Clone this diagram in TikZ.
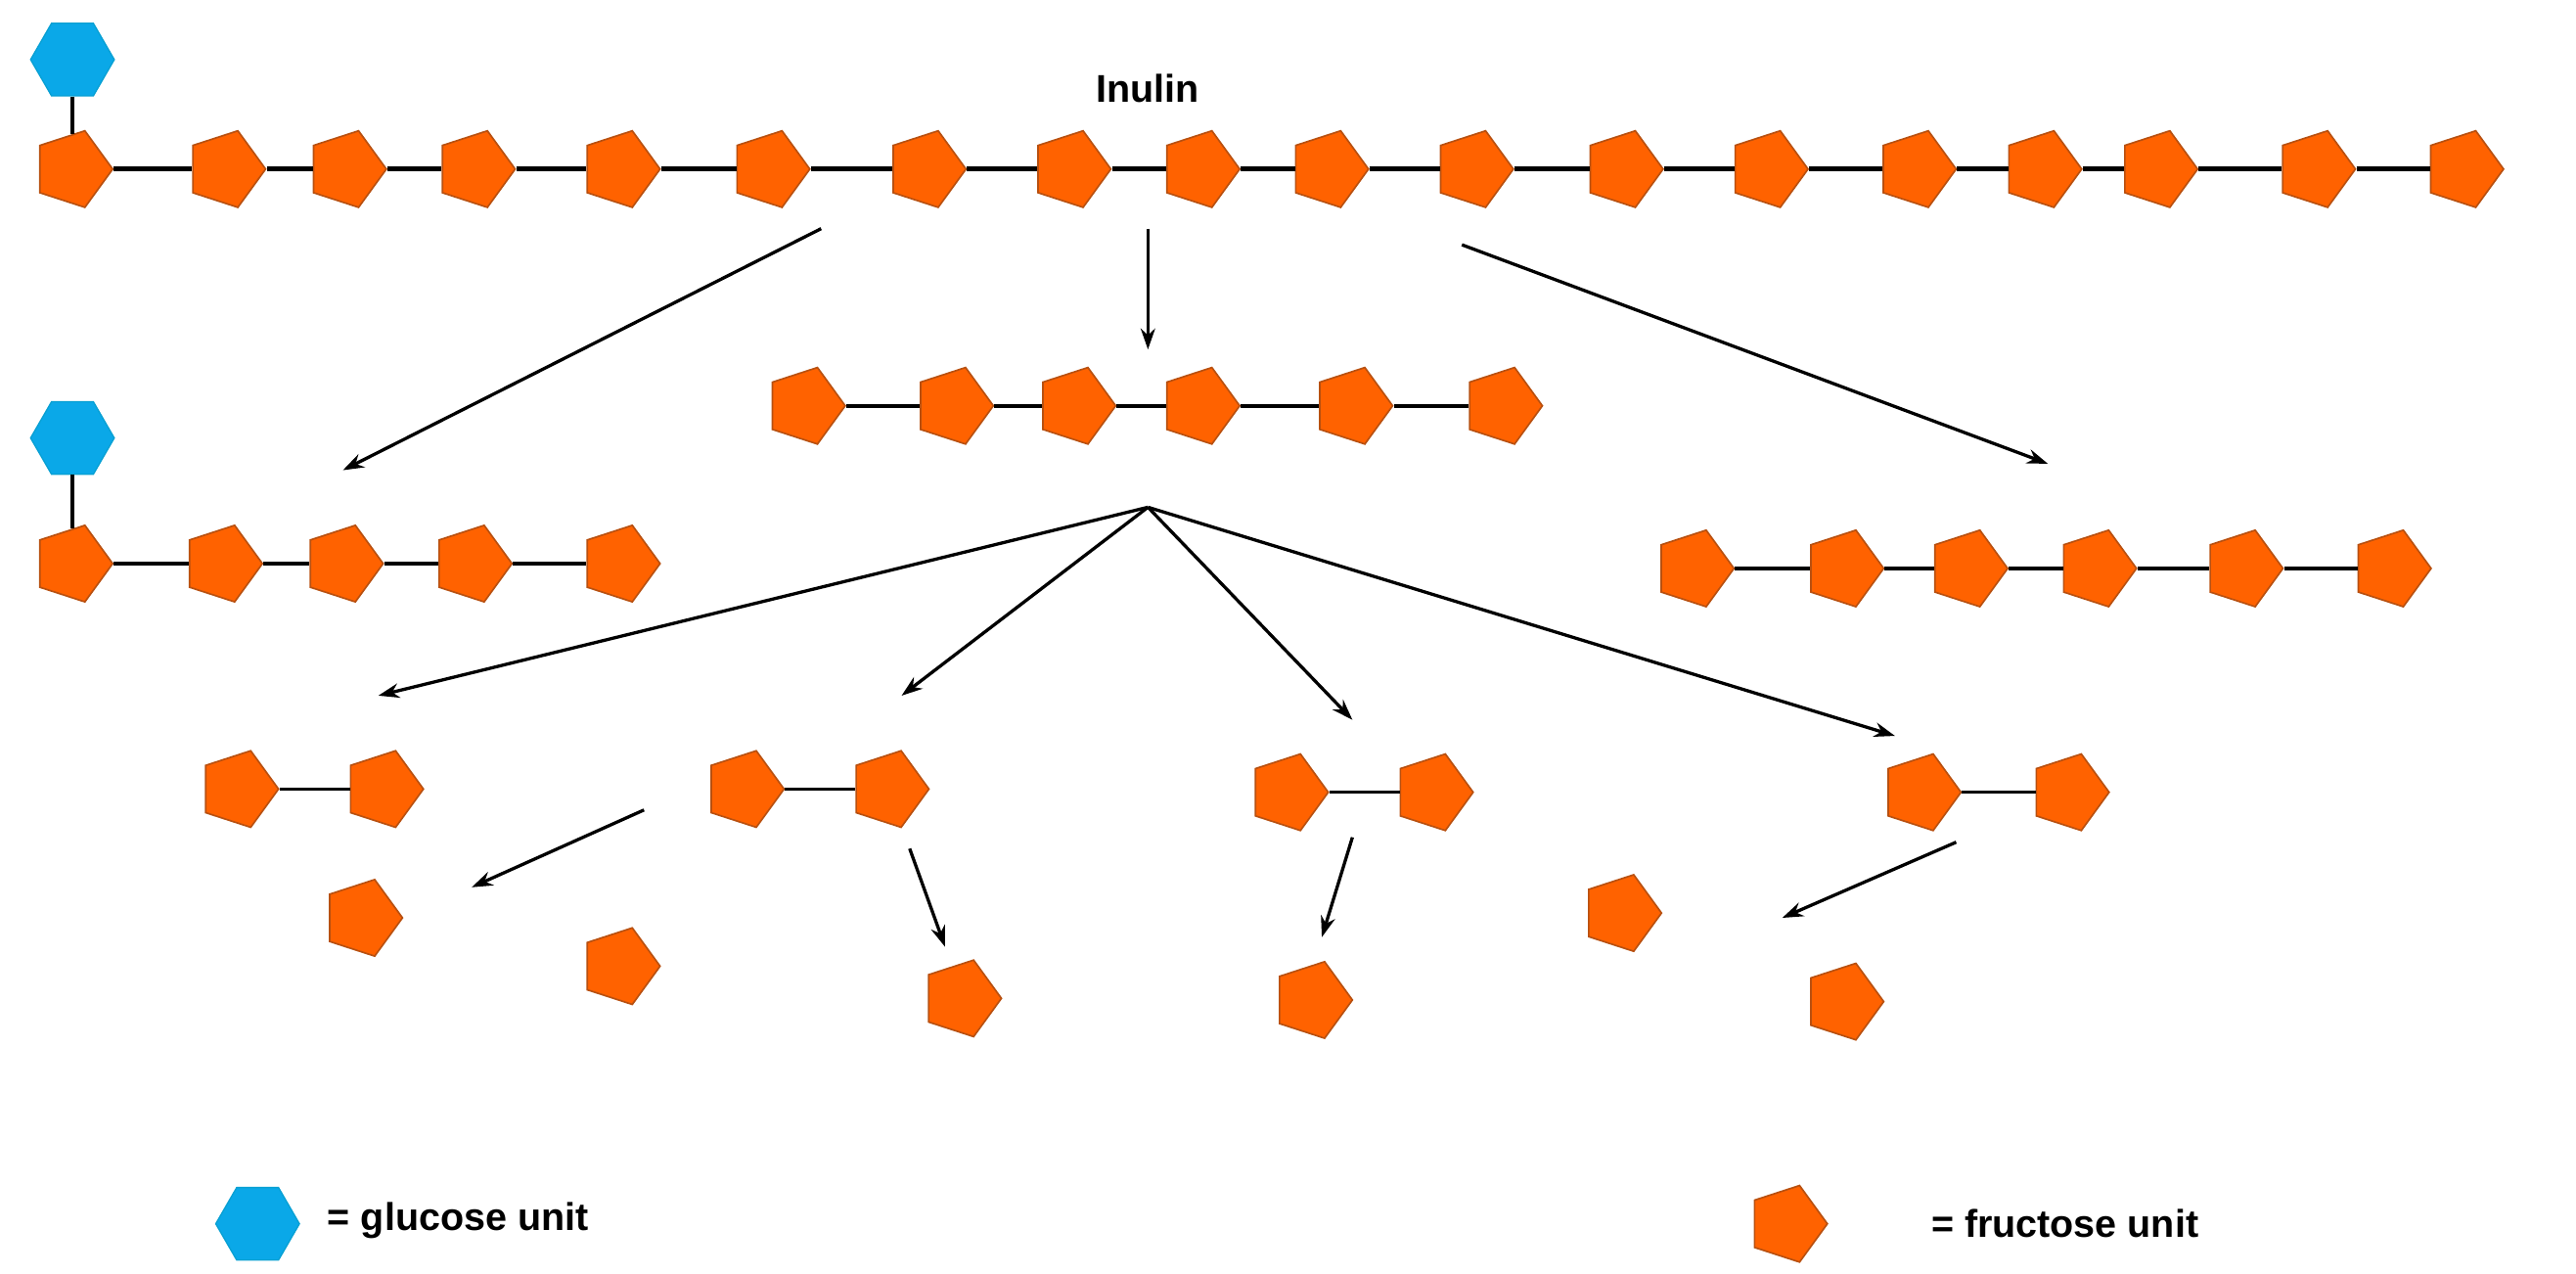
\documentclass[tikz,border=0pt]{standalone}
\usepackage{fontspec}
\setmainfont{Liberation Sans}
\usetikzlibrary{shapes.geometric,arrows.meta}
\definecolor{fru}{HTML}{FF6200}
\definecolor{frued}{HTML}{B85010}
\definecolor{glu}{HTML}{0AA8E8}
\begin{document}
\begin{tikzpicture}[x=1pt,y=-1pt,
 F/.style={regular polygon,regular polygon sides=5,shape border rotate=-90,minimum size=50pt,inner sep=0pt,fill=fru,draw=frued,line width=1pt},
 G/.style={regular polygon,regular polygon sides=6,minimum size=52pt,inner sep=0pt,fill=glu,draw=glu!80!teal,line width=0.8pt},
 bond/.style={line width=3.2pt},
 bd/.style={line width=2.2pt},
 ar/.style={line width=2pt,-{Stealth[length=13pt,width=9pt]}},
 lab/.style={font=\bfseries\fontsize{24}{28}\selectfont}]
\useasboundingbox (0,0) rectangle (1600,790.6);
% top chain
\foreach \x [count=\i] in {45,140,215,295,385,478,575,665,745,825,915,1008,1098,1190,1268,1340,1438,1530}
  \node[F] (t\i) at (\x,105) {};
\node[G] (tg) at (45,37) {};
\draw[bd] (tg) -- (t1);
\foreach \i [evaluate=\i as \j using int(\i+1)] in {1,...,17} \draw[bond] (t\i) -- (t\j);
\node[lab] (inulin) at (713,55) {Inulin};
% middle chain
\foreach \x [count=\i] in {500,592,668,745,840,933} \node[F] (m\i) at (\x,252) {};
\foreach \i [evaluate=\i as \j using int(\i+1)] in {1,...,5} \draw[bd] (m\i) -- (m\j);
% left chain
\foreach \x [count=\i] in {45,138,213,293,385} \node[F] (l\i) at (\x,350) {};
\node[G] (lg) at (45,272) {};
\draw[bd] (lg) -- (l1);
\foreach \i [evaluate=\i as \j using int(\i+1)] in {1,...,4} \draw[bd] (l\i) -- (l\j);
% right chain
\foreach \x [count=\i] in {1052,1145,1222,1302,1393,1485} \node[F] (r\i) at (\x,353) {};
\foreach \i [evaluate=\i as \j using int(\i+1)] in {1,...,5} \draw[bd] (r\i) -- (r\j);
% arrows from top
\coordinate (a1s) at (510,142); \coordinate (a1e) at (213,292);
\coordinate (a2s) at (713,142); \coordinate (a2e) at (713,217);
\coordinate (a3s) at (908,152); \coordinate (a3e) at (1272,288);
\draw[ar] (a1s) -- (a1e);
\draw[ar] (a2s) -- (a2e);
\draw[ar] (a3s) -- (a3e);
% fan
\coordinate (fan) at (713,315);
\coordinate (f1) at (235,432); \coordinate (f2) at (560,432);
\coordinate (f3) at (840,447); \coordinate (f4) at (1177,457);
\foreach \k in {f1,f2,f3,f4} \draw[ar] (fan) -- (\k);
% pairs
\node[F] (p1a) at (148,490) {}; \node[F] (p1b) at (238,490) {};
\node[F] (p2a) at (462,490) {}; \node[F] (p2b) at (552,490) {};
\node[F] (p3a) at (800,492) {}; \node[F] (p3b) at (890,492) {};
\node[F] (p4a) at (1193,492) {}; \node[F] (p4b) at (1285,492) {};
\draw[bd] (p1a) -- (p1b); \draw[bd] (p2a) -- (p2b);
\draw[bd] (p3a) -- (p3b); \draw[bd] (p4a) -- (p4b);
% singles
\node[F] (s1) at (225,570) {}; \node[F] (s2) at (385,600) {};
\node[F] (s3) at (597,620) {}; \node[F] (s4) at (815,621) {};
\node[F] (s5) at (1007,567) {}; \node[F] (s6) at (1145,622) {};
% small arrows
\coordinate (b1s) at (400,503); \coordinate (b1e) at (293,551);
\coordinate (b2s) at (565,527); \coordinate (b2e) at (587,588);
\coordinate (b3s) at (840,520); \coordinate (b3e) at (821,582);
\coordinate (b4s) at (1215,523); \coordinate (b4e) at (1107,570);
\draw[ar] (b1s) -- (b1e); \draw[ar] (b2s) -- (b2e);
\draw[ar] (b3s) -- (b3e); \draw[ar] (b4s) -- (b4e);
% legend
\node[G] (lgG) at (160,760) {};
\node[lab,anchor=west] (lgGt) at (200,758) {= glucose unit};
\node[F] (lgF) at (1110,760) {};
\node[lab,anchor=west] (lgFt) at (1196,760) {= fructose unit};
\end{tikzpicture}
\end{document}
